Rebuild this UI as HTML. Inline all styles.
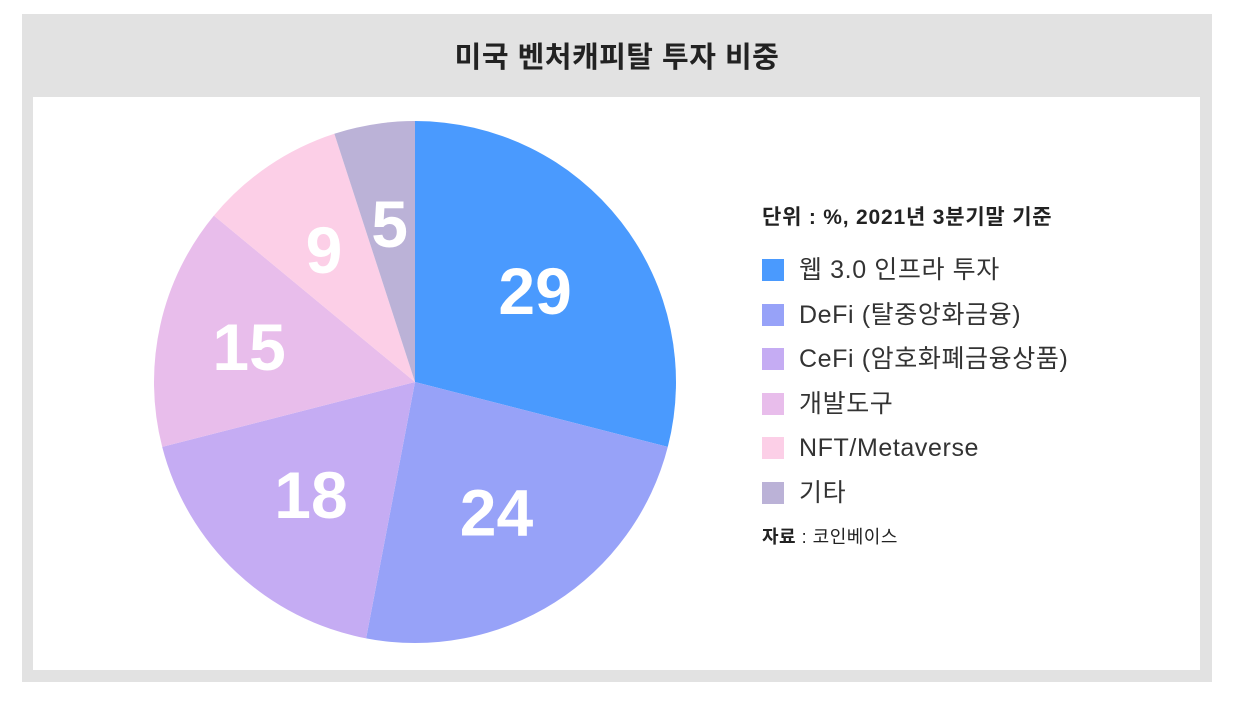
<!DOCTYPE html>
<html><head><meta charset="utf-8">
<style>
body{margin:0;width:1252px;height:705px;background:#fff;font-family:"Liberation Sans","Noto Sans CJK KR",sans-serif;position:relative;overflow:hidden}
#outer{position:absolute;left:22px;top:14px;width:1190px;height:668px;background:#e2e2e2}
#title{position:absolute;left:22px;top:34px;width:1190px;text-align:center;font-size:29px;font-weight:bold;color:#222;letter-spacing:0.5px}
#inner{position:absolute;left:33px;top:97px;width:1167px;height:573px;background:#fff}
.leg{position:absolute;left:762px;height:30px;line-height:30px;display:flex;align-items:center;font-size:25px;color:#333;letter-spacing:0.6px;white-space:nowrap}
.sw{width:22px;height:22px;margin-right:15px}
</style></head><body>
<div id="outer"></div>
<div id="title">미국 벤처캐피탈 투자 비중</div>
<div id="inner"></div>
<svg id="pie" width="1252" height="705" style="position:absolute;left:0;top:0"></svg>
<div style="position:absolute;left:762px;top:201px;font-size:21px;font-weight:bold;color:#222;letter-spacing:0.8px;white-space:nowrap">단위 : %, 2021년 3분기말 기준</div>
<div id="legend"></div>
<div style="position:absolute;left:762px;top:523px;font-size:18px;color:#222;letter-spacing:0.5px"><b>자료</b> : 코인베이스</div>
<script>
const categories=["웹 3.0 인프라 투자","DeFi (탈중앙화금융)","CeFi (암호화폐금융상품)","개발도구","NFT/Metaverse","기타"];
const values=[29,24,18,15,9,5];
const colors=["#4a9afe","#97a2f8","#c5acf3","#e8bdeb","#fccfe7","#bbb2d7"];
const svg=document.getElementById('pie');
const NS="http://www.w3.org/2000/svg";
const cx=415,cy=382,R=261;
const total=values.reduce((a,b)=>a+b,0);
function pt(f,r){const a=f*2*Math.PI;return [cx+r*Math.sin(a),cy-r*Math.cos(a)];}
let acc=0;
values.forEach((v,i)=>{
  const f0=acc/total,f1=(acc+v)/total;acc+=v;
  const [x0,y0]=pt(f0,R),[x1,y1]=pt(f1,R);
  const p=document.createElementNS(NS,'path');
  p.setAttribute('d',`M${cx},${cy}L${x0},${y0}A${R},${R} 0 ${(f1-f0)>0.5?1:0} 1 ${x1},${y1}Z`);
  p.setAttribute('fill',colors[i]);
  
  
  svg.appendChild(p);
  const lr=v<10?162:(v<17?170:152);
  const [lx,ly]=pt((f0+f1)/2,lr);
  const t=document.createElementNS(NS,'text');
  t.setAttribute('x',lx);t.setAttribute('y',ly+25);
  t.setAttribute('text-anchor','middle');t.setAttribute('font-size','66');
  t.setAttribute('font-weight','bold');t.setAttribute('fill','#fff');
  t.setAttribute('font-family','Liberation Sans, sans-serif');
  t.textContent=v;
  
  
  svg.appendChild(t);
});
const lg=document.getElementById('legend');
categories.forEach((c,i)=>{
  const d=document.createElement('div');
  d.className='leg';d.style.top=(255+i*44.5)+'px';
  
  
  d.innerHTML=`<div class="sw" style="background:${colors[i]}"></div><span>${c}</span>`;
  lg.appendChild(d);
});
</script>
</body></html>
